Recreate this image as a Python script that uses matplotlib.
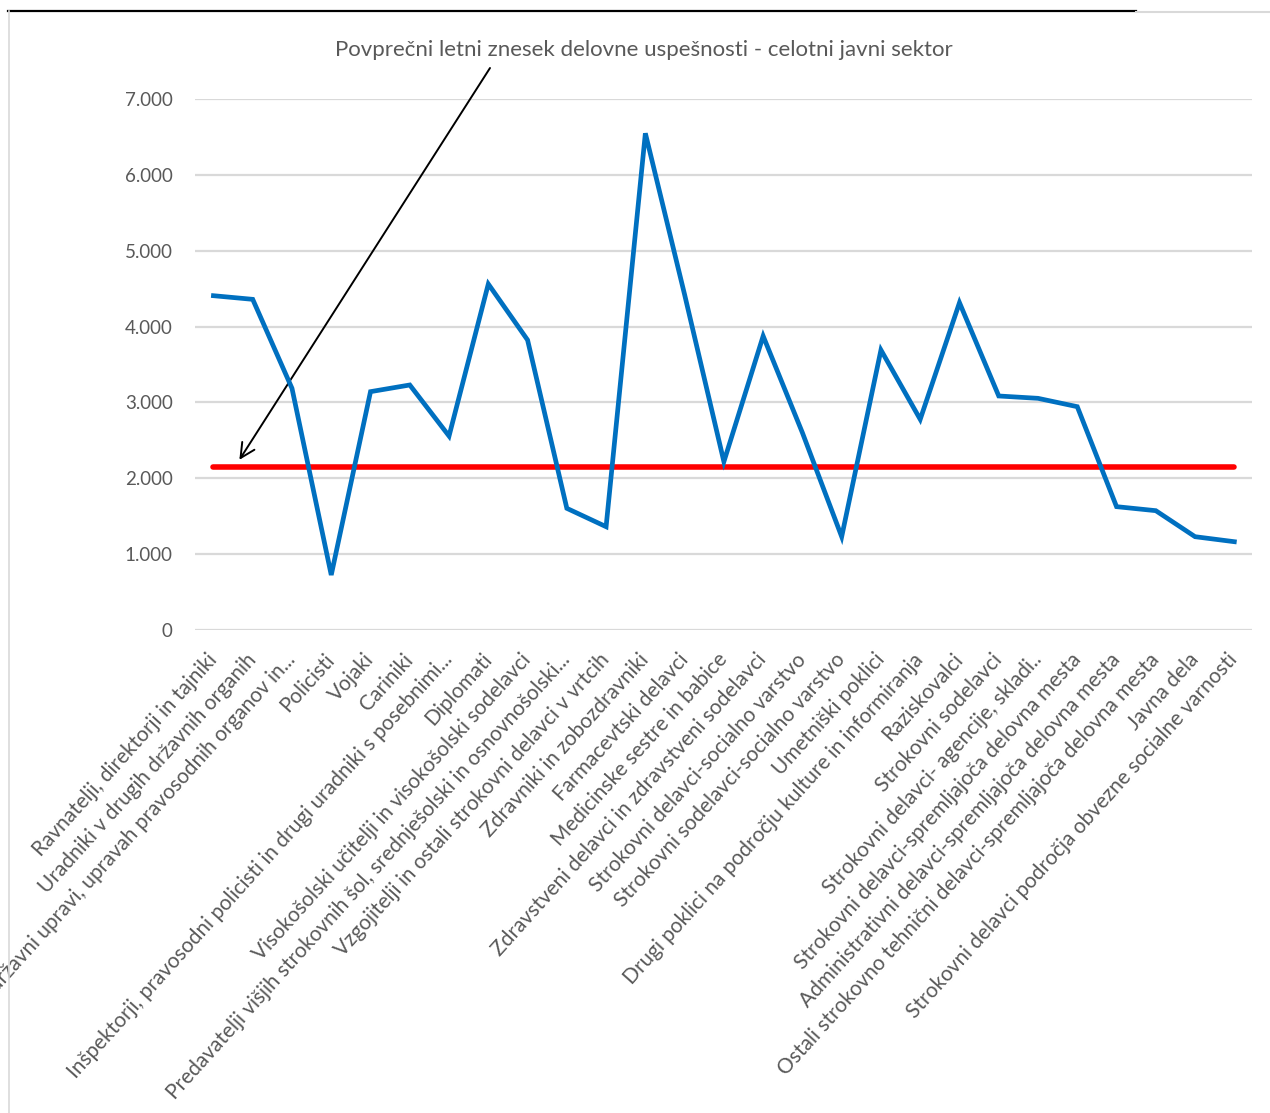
import matplotlib.pyplot as plt
from matplotlib.lines import Line2D
from matplotlib.ticker import FuncFormatter

plt.rcParams['font.family'] = ['Lato', 'DejaVu Sans']

categories = [
    "Ravnatelji, direktorji in tajniki",
    "Uradniki v drugih državnih organih",
    "Uradniki v državni upravi, upravah pravosodnih organov in...",
    "Policisti",
    "Vojaki",
    "Cariniki",
    "Inšpektorji, pravosodni policisti in drugi uradniki s posebnimi...",
    "Diplomati",
    "Visokošolski učitelji in visokošolski sodelavci",
    "Predavatelji višjih strokovnih šol, srednješolski in osnovnošolski...",
    "Vzgojitelji in ostali strokovni delavci v vrtcih",
    "Zdravniki in zobozdravniki",
    "Farmacevtski delavci",
    "Medicinske sestre in babice",
    "Zdravstveni delavci in zdravstveni sodelavci",
    "Strokovni delavci-socialno varstvo",
    "Strokovni sodelavci-socialno varstvo",
    "Umetniški poklici",
    "Drugi poklici na področju kulture in informiranja",
    "Raziskovalci",
    "Strokovni sodelavci",
    "Strokovni delavci- agencije, skladi..",
    "Strokovni delavci-spremljajoča delovna mesta",
    "Administrativni delavci-spremljajoča delovna mesta",
    "Ostali strokovno tehnični delavci-spremljajoča delovna mesta",
    "Javna dela",
    "Strokovni delavci področja obvezne socialne varnosti",
]
values = [4407, 4359, 3186, 725, 3142, 3230, 2557, 4561, 3823, 1604, 1362,
          6548, 4420, 2219, 3875, 2600, 1230, 3691, 2777, 4315, 3085, 3054,
          2944, 1626, 1573, 1230, 1164]
avg_value = 2153
avg_series = [avg_value] * len(categories)
annotation = "Povprečni letni znesek delovne uspešnosti - celotni javni sektor"
y_ticks = [0, 1000, 2000, 3000, 4000, 5000, 6000, 7000]

W, H = 1270, 1113
fig = plt.figure(figsize=(W / 100, H / 100), dpi=100)
ax = fig.add_axes([195 / W, 1 - 630 / H, (1252 - 195) / W, (630 - 99) / H])

x = list(range(len(categories)))
ax.plot(x, avg_series, color='#ff0000', lw=4, solid_capstyle='round', zorder=3)
ax.plot(x, values, color='#0070c0', lw=3.4, solid_joinstyle='miter', zorder=4)

ax.set_xlim(-0.47, len(categories) - 1 + 0.45)
ax.set_ylim(0, 7000)
ax.set_yticks(y_ticks)
ax.yaxis.set_major_formatter(FuncFormatter(lambda v, p: f"{int(v):,}".replace(",", ".")))
ax.grid(axis='y', color='#d9d9d9', lw=1.6, zorder=0)
ax.set_axisbelow(True)
for s in ax.spines.values():
    s.set_visible(False)

ax.set_xticks(x)
ax.set_xticklabels(categories, rotation=48, ha='right', va='center',
                   rotation_mode='anchor', fontsize=15, color='#595959')
ax.tick_params(axis='x', length=0, pad=19)
ax.tick_params(axis='y', length=0, pad=16, labelsize=13.5, labelcolor='#595959')

# annotation text + arrow
fig.text(644 / W, 1 - 50 / H, annotation, ha='center', va='center',
         fontsize=16, color='#595959')
ax.annotate('', xy=(0.66, avg_value + 90), xycoords='data',
            xytext=(490 / W, 1 - 68 / H), textcoords='figure fraction',
            arrowprops=dict(arrowstyle='->', color='black', lw=1.4,
                            mutation_scale=26, shrinkA=0, shrinkB=0))

# frame lines of the screenshot
fig.add_artist(Line2D([8 / W, 1136 / W], [1 - 11 / H, 1 - 11 / H],
                      transform=fig.transFigure, color='black', lw=1.6))
fig.add_artist(Line2D([1136 / W, 1], [1 - 12 / H, 1 - 12 / H],
                      transform=fig.transFigure, color='#d9d9d9', lw=1.5))
fig.add_artist(Line2D([9 / W, 9 / W], [0, 1 - 11 / H],
                      transform=fig.transFigure, color='#d9d9d9', lw=1.2))

fig.savefig('out.png', dpi=100)
